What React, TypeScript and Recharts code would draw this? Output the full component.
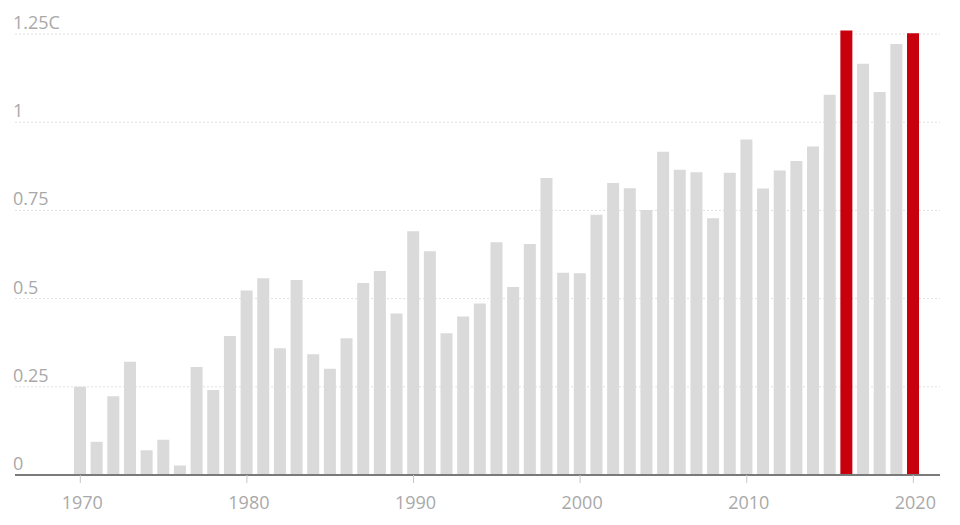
import { BarChart, Bar, XAxis, YAxis, CartesianGrid, Cell } from "recharts";

// Global temperature anomaly by year (C)
const years = [
  1970, 1971, 1972, 1973, 1974, 1975, 1976, 1977, 1978, 1979,
  1980, 1981, 1982, 1983, 1984, 1985, 1986, 1987, 1988, 1989,
  1990, 1991, 1992, 1993, 1994, 1995, 1996, 1997, 1998, 1999,
  2000, 2001, 2002, 2003, 2004, 2005, 2006, 2007, 2008, 2009,
  2010, 2011, 2012, 2013, 2014, 2015, 2016, 2017, 2018, 2019, 2020,
];

const anomalies = [
  0.25, 0.094, 0.223, 0.321, 0.07, 0.1, 0.027, 0.306, 0.241, 0.394,
  0.523, 0.558, 0.359, 0.553, 0.342, 0.301, 0.388, 0.544, 0.578, 0.458,
  0.691, 0.634, 0.402, 0.449, 0.486, 0.66, 0.533, 0.655, 0.842, 0.573,
  0.572, 0.738, 0.828, 0.813, 0.751, 0.916, 0.865, 0.858, 0.728, 0.857,
  0.951, 0.812, 0.863, 0.89, 0.931, 1.078, 1.26, 1.166, 1.086, 1.222, 1.252,
];

const recordYears = [2016, 2020];

const yTicks = [0, 0.25, 0.5, 0.75, 1, 1.25];
const yTickLabels = ["0", "0.25", "0.5", "0.75", "1", "1.25C"];
const xTicks = [1970, 1980, 1990, 2000, 2010, 2020];

const data = years.map((year, i) => ({ year, value: anomalies[i] }));

const FONT = "'Open Sans', sans-serif";

const YTick = ({ y, payload }: any) => {
  const idx = yTicks.indexOf(payload.value);
  return (
    <text x={5} y={y - 5} fill="#a9a9a9" fontSize={18} fontFamily={FONT} textAnchor="start">
      {yTickLabels[idx]}
    </text>
  );
};

const XTick = ({ x, payload }: any) => (
  <text x={x + 2} y={501} fill="#a9a9a9" fontSize={18} fontFamily={FONT} textAnchor="middle">
    {payload.value}
  </text>
);

export default function App() {
  return (
    <BarChart
      width={944}
      height={509}
      data={data}
      margin={{ top: 8.4, right: 12, left: 6, bottom: 0 }}
    >
      <CartesianGrid
        vertical={false}
        stroke="#e0e0e0"
        strokeDasharray="2 2"
        syncWithTicks
      />
      <XAxis
        dataKey="year"
        type="number"
        domain={[1966.08, 2021.6]}
        ticks={xTicks}
        interval={0}
        axisLine={{ stroke: "#7a7a7a", strokeWidth: 2 }}
        tickLine={{ stroke: "#c8c8c8" }}
        tickSize={8}
        tick={<XTick />}
        height={42}
      />
      <YAxis
        width={1}
        domain={[0, 1.3]}
        ticks={yTicks}
        interval={0}
        allowDataOverflow
        axisLine={false}
        tickLine={false}
        tick={<YTick />}
      />
      <Bar dataKey="value" barSize={12} isAnimationActive={false}>
        {data.map((d) => (
          <Cell
            key={d.year}
            fill={recordYears.includes(d.year) ? "#c8000d" : "#dadada"}
          />
        ))}
      </Bar>
    </BarChart>
  );
}
